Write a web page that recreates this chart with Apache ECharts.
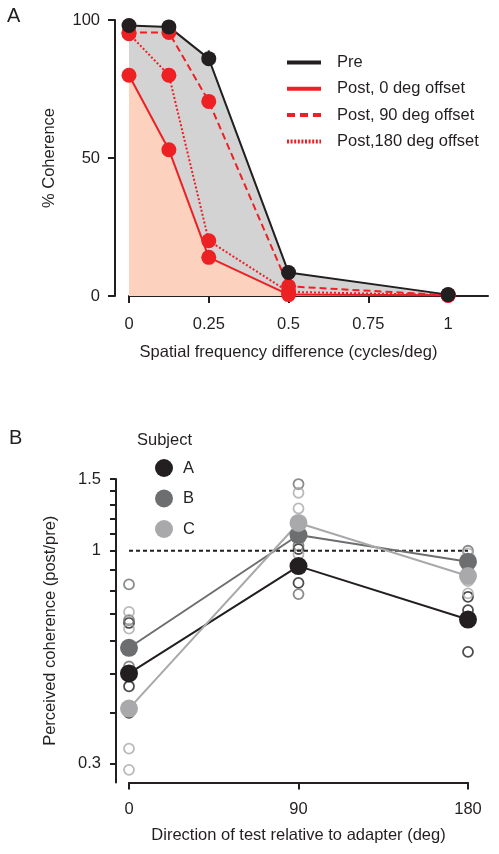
<!DOCTYPE html>
<html><head><meta charset="utf-8">
<script src="https://cdn.jsdelivr.net/npm/echarts@6/dist/echarts.min.js"></script>
<style>html,body{margin:0;padding:0;background:#fff}#c{width:499px;height:854px}</style>
</head><body><div id="c"></div>
<script>
// ---------- Panel A data ----------
const freqs = [0, 0.125, 0.25, 0.5, 1];
const pre = [98, 97.5, 86, 8.5, 0.5];
const preErr = [1.5, 1.5, 3, 2.5, 1.5];
const post0 = [80, 53, 14, 0.5, 0.3];
const post0Err = [2.5, 7, 3, 2, 0];
const post90 = [95.5, 95.5, 70.5, 3.5, 0.3];
const post90Err = [1, 1, 5.5, 1, 0];
const post180 = [95, 80, 20, 1.5, 0.3];
const post180Err = [1, 4.5, 2, 1, 0];
const freqTicks = [0, 0.25, 0.5, 0.75, 1];
const legendA = ['Pre', 'Post, 0 deg offset', 'Post, 90 deg offset', 'Post,180 deg offset'];

// ---------- Panel B data ----------
const dirs = [0, 90, 180];
const meanA = [0.50, 0.917, 0.678];
const meanB = [0.578, 1.093, 0.94];
const meanC = [0.41, 1.17, 0.867];
const openA = [[0,0.665],[0,0.465],[0,0.40],[90,1.01],[90,0.834],[90,0.915],[180,0.771],[180,0.565],[180,0.715]];
const openB = [[0,0.827],[0,0.676],[0,0.52],[90,1.458],[90,0.783],[90,1.03],[180,1.0],[180,0.92],[180,0.90]];
const openC = [[0,0.708],[0,0.644],[0,0.327],[0,0.29],[90,1.388],[90,1.27],[90,0.98],[180,0.985],[180,0.786],[180,0.842]];
const ratioTicks = [0.3,0.4,0.5,0.6,0.7,0.8,0.9,1,1.1,1.2,1.3,1.4,1.5];
const ratioLabels = [0.3, 1, 1.5];
const ratioMin = 0.27, ratioMax = 1.5;
const subjects = ['A', 'B', 'C'];

const FONT = 'Liberation Sans, Arial, Helvetica, sans-serif';
const INK = '#231f20';
const RED = '#ed2024';
const GRAYFILL = '#d3d3d4';
const SALMON = '#fcd2bf';
const subjColors = ['#231f20', '#6d6e70', '#a9a9ab'];
const L = Math.log10;

// legend icons (line samples)
function dashPath(seg, gap, total, h) {
  let d = 'path://';
  for (let x = 0; x < total - 0.01; x += seg + gap) {
    const w = Math.min(seg, total - x);
    d += 'M' + x + ',0h' + w + 'v' + h + 'h-' + w + 'z';
  }
  return d;
}
const iconSolid = 'path://M0,0h34v4h-34z';
const iconDashed = dashPath(8, 5, 34, 4);
const iconDotted = dashPath(2, 1.6, 34, 4);

function pts(vals) { return freqs.map((f, i) => [f, vals[i]]); }
function errSeries(vals, errs, color) {
  return {
    type: 'custom', xAxisIndex: 0, yAxisIndex: 0, silent: true,
    data: freqs.map((f, i) => [f, vals[i], errs[i]]),
    renderItem: (params, api) => {
      const x = api.value(0), y = api.value(1), e = api.value(2);
      const p1 = api.coord([x, y - e]), p2 = api.coord([x, y + e]);
      return { type: 'line', shape: { x1: p1[0], y1: p1[1], x2: p2[0], y2: p2[1] },
               style: { stroke: color, lineWidth: 2 } };
    }
  };
}
function dataLine(name, vals, color, type) {
  return { type: 'line', name: name, xAxisIndex: 0, yAxisIndex: 0, data: pts(vals),
    symbol: 'circle', symbolSize: 15, itemStyle: { color: color },
    lineStyle: { color: color, width: 2, type: type }, silent: true };
}
function legendLine(name, color) {
  return { type: 'line', name: name, xAxisIndex: 0, yAxisIndex: 0, data: [],
    symbol: 'none', itemStyle: { color: color }, lineStyle: { color: color, width: 4 } };
}

const series = [
  // fills
  { type: 'line', name: 'fillPre', xAxisIndex: 0, yAxisIndex: 0, data: pts(pre), symbol: 'none',
    lineStyle: { width: 0, opacity: 0 }, areaStyle: { color: GRAYFILL, opacity: 1 }, silent: true },
  { type: 'line', name: 'fillPost0', xAxisIndex: 0, yAxisIndex: 0, data: pts(post0), symbol: 'none',
    lineStyle: { width: 0, opacity: 0 }, areaStyle: { color: SALMON, opacity: 1 }, silent: true },
  // red curves
  errSeries(post180, post180Err, RED),
  dataLine('d180', post180, RED, [2, 2]),
  errSeries(post90, post90Err, RED),
  dataLine('d90', post90, RED, [7, 4]),
  errSeries(post0, post0Err, RED),
  dataLine('d0', post0, RED, 'solid'),
  errSeries(pre, preErr, INK),
  dataLine('dPre', pre, INK, 'solid'),
  // legend-only entries
  legendLine(legendA[0], INK),
  legendLine(legendA[1], RED),
  legendLine(legendA[2], RED),
  legendLine(legendA[3], RED),
  // Panel B reference line
  { type: 'line', name: 'ref', xAxisIndex: 1, yAxisIndex: 1, data: [[dirs[0], L(1)], [dirs[2], L(1)]],
    symbol: 'none', lineStyle: { color: INK, width: 1.8, type: [4, 3] }, silent: true },
];
[openA, openB, openC].forEach((arr, k) => {
  series.push({ type: 'scatter', name: 'open' + subjects[k], xAxisIndex: 1, yAxisIndex: 1,
    data: arr.map(p => [p[0], L(p[1])]), symbol: 'circle', symbolSize: 10,
    itemStyle: { color: 'rgba(0,0,0,0)', borderColor: subjColors[k], borderWidth: 1.8 }, silent: true });
});
[meanA, meanB, meanC].forEach((arr, k) => {
  series.push({ type: 'line', name: subjects[k], xAxisIndex: 1, yAxisIndex: 1,
    data: dirs.map((d, i) => [d, L(arr[i])]), symbol: 'circle', symbolSize: 18,
    itemStyle: { color: subjColors[k] }, lineStyle: { color: subjColors[k], width: 2 }, silent: true, z: 3 });
});

const axisCommon = {
  axisLine: { show: true, onZero: false, lineStyle: { color: INK, width: 2 } },
  axisTick: { show: true, inside: false, length: 7, lineStyle: { color: INK, width: 2 } },
  splitLine: { show: false },
};
const txt = { fontFamily: FONT, fontSize: 16.5, color: INK };

const option = {
  animation: false,
  backgroundColor: '#fff',
  textStyle: { fontFamily: FONT },
  title: [
    { text: 'A', left: 7, top: 6, padding: 0, textStyle: { fontFamily: FONT, fontSize: 20, fontWeight: 'normal', color: INK } },
    { text: 'B', left: 9, top: 428, padding: 0, textStyle: { fontFamily: FONT, fontSize: 20, fontWeight: 'normal', color: INK } },
    { text: 'Subject', left: 137, top: 432, padding: 0, textStyle: Object.assign({ fontWeight: 'normal' }, txt) }
  ],
  legend: [
    { data: [
        { name: legendA[0], icon: iconSolid },
        { name: legendA[1], icon: iconSolid },
        { name: legendA[2], icon: iconDashed },
        { name: legendA[3], icon: iconDotted }
      ],
      left: 287, top: 54, orient: 'vertical', padding: 0, itemWidth: 34, itemHeight: 14, itemGap: 9.3,
      selectedMode: false, textStyle: Object.assign({ padding: [0, 0, 0, 11] }, txt) },
    { data: subjects.map(s => ({ name: s, icon: 'circle' })), left: 155, top: 459, orient: 'vertical', padding: 0,
      itemWidth: 18, itemHeight: 18, itemGap: 12.5, selectedMode: false,
      textStyle: Object.assign({ padding: [0, 0, 0, 5] }, txt) }
  ],
  grid: [
    { left: 129, top: 20, width: 359, height: 276 },
    { left: 129, top: 479, width: 339, height: 303.5 }
  ],
  xAxis: [
    Object.assign({}, axisCommon, {
      type: 'value', gridIndex: 0, min: 0, max: 1.125,
      axisTick: Object.assign({}, axisCommon.axisTick, { customValues: freqTicks }),
      axisLabel: Object.assign({ customValues: freqTicks, margin: 20 }, txt),
      name: 'Spatial frequency difference (cycles/deg)', nameLocation: 'middle', nameGap: 48,
      nameTextStyle: Object.assign({ padding: [0, 40, 0, 0] }, txt)
    }),
    Object.assign({}, axisCommon, {
      type: 'value', gridIndex: 1, min: 0, max: 180, interval: 90,
      axisLabel: Object.assign({ margin: 18 }, txt),
      name: 'Direction of test relative to adapter (deg)', nameLocation: 'middle', nameGap: 44,
      nameTextStyle: txt
    })
  ],
  yAxis: [
    Object.assign({}, axisCommon, {
      type: 'value', gridIndex: 0, min: 0, max: 100, interval: 50, offset: 14,
      axisLabel: Object.assign({ margin: 15 }, txt),
      name: '% Coherence', nameLocation: 'middle', nameGap: 57, nameTextStyle: txt
    }),
    Object.assign({}, axisCommon, {
      type: 'value', gridIndex: 1, min: L(ratioMin), max: L(ratioMax), offset: 13,
      axisTick: Object.assign({}, axisCommon.axisTick, { length: 6, customValues: ratioTicks.map(L) }),
      axisLabel: Object.assign({ margin: 15, customValues: ratioLabels.map(L),
        formatter: v => String(+Math.pow(10, v).toFixed(2)) }, txt),
      name: 'Perceived coherence (post/pre)', nameLocation: 'middle', nameGap: 57, nameTextStyle: txt
    })
  ],
  series: series
};
const chart = echarts.init(document.getElementById('c'), null, { renderer: 'canvas' });
chart.setOption(option);
</script>
</body></html>
